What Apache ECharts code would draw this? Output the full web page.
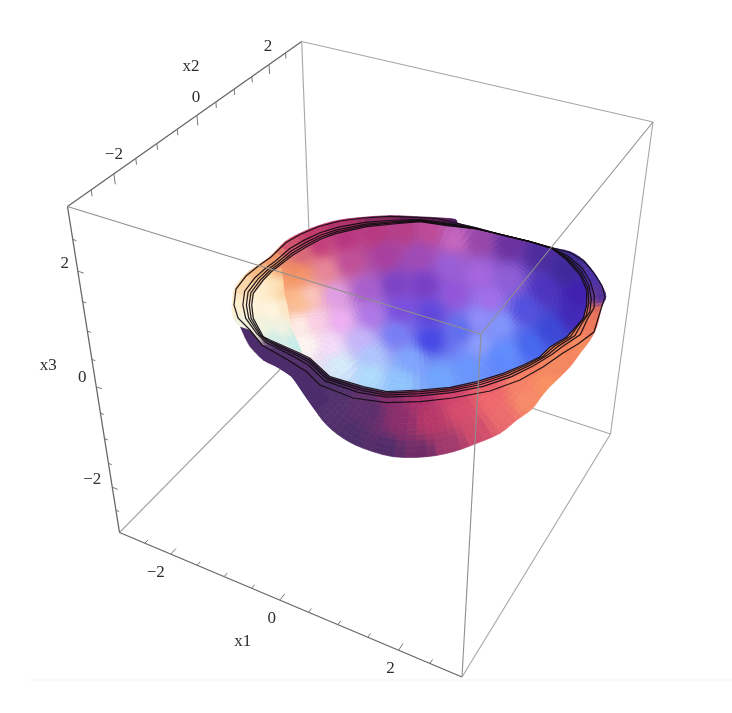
<!DOCTYPE html>
<html><head><meta charset="utf-8">
<style>html,body{margin:0;padding:0;background:#fff}#c{width:732px;height:713px;filter:blur(0.55px)}</style>
<script src="https://cdn.jsdelivr.net/npm/echarts@6/dist/echarts.min.js"></script>
</head><body><div id="c"></div>
<script>
// ---- axis data ----
const axisRange = [-3, 3];
const tickValues = [-2.5, -2, -1.5, -1, -0.5, 0, 0.5, 1, 1.5, 2, 2.5];
const labelledTicks = [-2, 0, 2];
const axisNames = ['x1', 'x2', 'x3'];

// ---- rim and silhouette (view-plane units) ----
const innerX = [251.7,253.3,263.3,271,280,293,306.7,321,336.7,366.7,393.3,420,446.7,476.7,503.3,530,551.7,566.7,580,586.7,586.7,583.3,574,566.7,550,540,523.3,503.3,476.7,450,420,386.7,363.3,330,310,300,270,263.3,253.3];
const innerY = [305,293.3,280,272,265,255,246.7,239,233.3,226.7,224,221.7,225.7,229,235,241.7,248.3,260,275,290,305,318.3,329,337,347,356.7,365,373.3,381.7,387.3,390,391.7,386.7,376.7,358.3,353.3,340,336.7,318.3];
const rimX = [234,236,246,259,271,286,301,319,340,363,390,420,437,476.7,503.3,530,553,570,584,594,602,605,601,594,578,563,543,520,490,453,420,386.7,353,320,306.7,288,262,250,238];
const rimY = [305,289,276,265.5,257,242.5,234,226.5,221,218,216.5,217.5,218.5,228,235.5,241.7,248,252.5,261,273,286,297,309,332,344,353,367,380,391,398,401.7,402.7,398,385,371.7,360,345,330,318];
const rimLevels = [0, 0.14, 0.3, 0.5, 1];
const silhouetteX = [232.3,235,245,258.3,270,285,300,318.3,340,363.3,390,416.7,436.7,455,458.3,476.7,503.3,530,551.7,570,583.3,593.3,601.7,606,601.7,596.7,590,580,570,556.7,548.3,540,531.7,516.7,500,476.7,453.3,426.7,393.3,363.3,343.3,326.7,315,303.3,291.7,276.7,263.3,250,245,240,233.3];
const silhouetteY = [303.3,288.3,275,265,256.7,241.7,233.3,225.7,220,217.3,215.7,216.7,217.7,219.3,223.3,227.7,235,241.7,247.7,251.7,260,271.7,285,296.7,306.7,326.7,340,353.3,366.7,380,388.3,398.3,409.3,420,433.3,443.3,451.7,456.7,456.7,448.3,438.3,425,410,393.3,376.7,366.7,360,346.7,338,326.7,318.3];
const creamX = [283,284,287,291,301.7,270,263.3,253.3,251.7,253.3,263.3,272,281];
const creamY = [281,293,305,328,352,340,336.7,318.3,305,293.3,280,272,268];
const skirtX = [240,250,262,288,306.7,320,330,315,303.3,291.7,276.7,263.3,250,245];
const skirtY = [326.7,330,345,360,371.7,385,400,410,393.3,376.7,366.7,360,346.7,338];
const skirtColour = '#4c2c6a';

// ---- surface colours: [x, y, colour] ----
const bodyColours = [
[420,219,'#5a1c50'],[380,219,'#8a2860'],[340,224,'#b03068'],[310,232,'#c03868'],[290,245,'#d0506c'],[272,258,'#f09868'],[258,270,'#f8b880'],[245,285,'#fcd8a8'],[238,305,'#fff0d0'],[243,322,'#f0f4e0'],
[480,230,'#3a1860'],[530,243,'#2c1a6c'],[570,262,'#3c2a90'],[590,280,'#4a30a8'],[600,298,'#4a2c9c'],[600,312,'#e87058'],[595,325,'#f0785c'],[580,345,'#f88c60'],[560,360,'#f48860'],[545,385,'#f89060'],[525,400,'#f68c68'],[500,415,'#ec6c6c'],[475,430,'#d04c6c'],[450,445,'#a03a6c'],[420,455,'#6c2c68'],[385,450,'#502c68'],[350,435,'#4c2e68'],[320,410,'#50306c'],[295,380,'#4c2c68'],[275,362,'#4e2c6c'],[340,395,'#50306c'],[370,410,'#5a2e6c'],[400,420,'#8c2e6c'],[430,420,'#b83868'],[460,410,'#d84c6c'],[490,400,'#f0686c'],[520,385,'#f88068'],[420,397,'#b0306c'],[390,397,'#8a2c6c'],[360,392,'#60306c'],[330,380,'#4c2e68'],[450,393,'#d0406c'],[490,385,'#e85c68'],[530,365,'#f47c60'],[565,345,'#f47c58'],[590,320,'#f07c58']];
const innerColours = [
[300,256,'#d8687a'],[320,245,'#c4407c'],[345,238,'#b83680'],[375,232,'#b83a80'],[405,230,'#b84088'],[430,232,'#c04c98'],[455,240,'#c868c0'],[480,240,'#9a48a8'],[510,245,'#6c32a0'],[540,255,'#4e2c9c'],[565,272,'#3e2a9a'],[578,295,'#4020b0'],[572,315,'#4028b8'],[550,330,'#3848d8'],[530,345,'#4468f0'],[505,355,'#6090ff'],[480,345,'#8aa0ff'],[500,325,'#8098ff'],[525,310,'#5050e0'],[545,290,'#4c34c0'],[510,280,'#9060d8'],[480,275,'#a868e0'],[450,265,'#9a60d8'],[420,255,'#a04cb8'],[385,255,'#a840a0'],[350,262,'#c05098'],[325,270,'#e88898'],[295,270,'#f08a60'],[290,280,'#f69a68'],[300,275,'#f4986c'],[292,295,'#fcb888'],[300,302,'#fbc090'],[310,295,'#fcc8c0'],[335,295,'#e0a0e8'],[365,290,'#a860d0'],[395,285,'#7c44c8'],[425,285,'#7840c8'],[455,295,'#9458dc'],[490,300,'#a470ec'],[430,315,'#6048dc'],[400,310,'#7a50e0'],[370,315,'#b078e8'],[340,320,'#f0b0f4'],[315,320,'#fcd0e8'],[300,325,'#fff0e8'],[305,345,'#fffaf4'],[330,345,'#f8e0fc'],[360,340,'#c8b8fc'],[395,335,'#7880f8'],[430,340,'#4448e8'],[460,330,'#6070f0'],[480,320,'#9090fc'],[340,365,'#d8f0fc'],[370,375,'#b0e0ff'],[400,382,'#90c8ff'],[440,378,'#70a8ff'],[470,370,'#6898ff'],[410,360,'#80a8ff'],[370,355,'#b0c8ff'],[500,360,'#5c88ff']];
const creamColours = [[281,270,'#f8b078'],[284,290,'#fcd0a0'],[288,312,'#fce8c8'],[275,285,'#fce8c0'],[262,290,'#fff0d0'],[256,305,'#fff4dc'],[272,310,'#fff6e0'],[280,328,'#f4f4e4'],[262,325,'#f0f4e0'],[275,338,'#d0eee8'],[296,345,'#c4ece8']];

// ---- camera: where the eight cube corners land, and their homogeneous depth ----
const corners = {
  '-1,-1,1':[67.5,206.5,1],'-1,1,1':[301.7,41.5,1.235],'1,1,1':[653,122,1.086],'1,-1,1':[481,334,0.851],
  '-1,-1,-1':[119.5,532.5,1.237],'-1,1,-1':[313,336,1.472],'1,1,-1':[610.5,434,1.323],'1,-1,-1':[462,677,1.088]};
function project(a, b, c) {
  const s = [a, b, c].map(v => (v - axisRange[0]) / (axisRange[1] - axisRange[0]));
  let X = 0, Y = 0, W = 0;
  for (const k in corners) {
    const sg = k.split(',').map(Number), p = corners[k];
    const t = (sg[0] > 0 ? s[0] : 1 - s[0]) * (sg[1] > 0 ? s[1] : 1 - s[1]) * (sg[2] > 0 ? s[2] : 1 - s[2]) * p[2];
    X += p[0] * t; Y += p[1] * t; W += t;
  }
  return [X / W, Y / W];
}
const L = axisRange[1];
const lightEdge = '#a6a6a6', darkEdge = '#666666';
const backEdges = [[[-L,-L,L],[-L,L,L],darkEdge],[[-L,L,L],[L,L,L],lightEdge],[[-L,L,L],[-L,L,-L],lightEdge],[[-L,-L,-L],[-L,L,-L],lightEdge],[[L,L,-L],[-L,L,-L],lightEdge]];
const outerEdges = [[[-L,-L,L],[-L,-L,-L],darkEdge],[[-L,-L,-L],[L,-L,-L],darkEdge],[[L,-L,-L],[L,L,-L],lightEdge],[[L,L,L],[L,L,-L],lightEdge]];
const frontEdges = [[[-L,-L,L],[L,-L,L],'#8f8f8f'],[[L,-L,L],[L,L,L],'#8f8f8f'],[[L,-L,L],[L,-L,-L],'#8f8f8f']];

function blend(samples, x, y) {
  let r = 0, g = 0, b = 0, sum = 0;
  for (const s of samples) {
    const d = (s[0]-x)*(s[0]-x) + (s[1]-y)*(s[1]-y);
    const w = 1 / Math.pow(d + 40, 1.7);
    const n = parseInt(s[2].slice(1), 16);
    r += (n >> 16) * w; g += ((n >> 8) & 255) * w; b += (n & 255) * w; sum += w;
  }
  return 'rgb(' + Math.round(r/sum) + ',' + Math.round(g/sum) + ',' + Math.round(b/sum) + ')';
}
function catmull(p0, p1, p2, p3, t) {
  return 0.5 * (2*p1 + (p2-p0)*t + (2*p0-5*p1+4*p2-p3)*t*t + (3*p1-p0-3*p2+p3)*t*t*t);
}
function meshSeries(name, ox, oy, samples, seg, rings, smooth) {
  return { type: 'custom', name, silent: true, clip: false, data: [[0, 0]], z: 3,
    renderItem(params, api) {
      const n = ox.length;
      const cx = ox.reduce((a, b) => a + b) / n, cy = oy.reduce((a, b) => a + b) / n;
      const px = [], py = [];
      for (let i = 0; i < n; i++) for (let k = 0; k < seg; k++) {
        const h = (i + n - 1) % n, j = (i + 1) % n, l = (i + 2) % n, t = k / seg;
        if (smooth) {
          px.push(catmull(ox[h], ox[i], ox[j], ox[l], t)); py.push(catmull(oy[h], oy[i], oy[j], oy[l], t));
        } else {
          px.push(ox[i] + (ox[j] - ox[i]) * t); py.push(oy[i] + (oy[j] - oy[i]) * t);
        }
      }
      const children = [], m = px.length;
      const vert = (i, r) => { const q = i % m; return [cx + (px[q] - cx) * r, cy + (py[q] - cy) * r]; };
      for (let i = 0; i < m; i++) for (let j = 0; j < rings; j++) {
        const r0 = j / rings, r1 = (j + 1) / rings;
        const a = vert(i, r0), b = vert(i + 1, r0), c = vert(i + 1, r1), d = vert(i, r1);
        const col = blend(samples, (a[0]+b[0]+c[0]+d[0]) / 4, (a[1]+b[1]+c[1]+d[1]) / 4);
        children.push({ type: 'polygon', shape: { points: [a, b, c, d].map(p => api.coord(p)) },
          style: { fill: col, stroke: col, lineWidth: 0.7 } });
      }
      return { type: 'group', children };
    } };
}
function edgeSeries(name, edges, z) {
  return { type: 'custom', name, silent: true, clip: false, data: [[0, 0]], z,
    renderItem(params, api) {
      return { type: 'group', children: edges.map(e => ({ type: 'polyline',
        shape: { points: [project(...e[0]), project(...e[1])].map(p => api.coord(p)) },
        style: { stroke: e[2], lineWidth: e[2] === darkEdge ? 1.3 : 1.1, fill: null } })) };
    } };
}
// axis placement: value -> point on cube edge; tick grows along another cube direction
const axes = [
  { name: 'x1', at: v => [v, -L, -L], tick: [0, 0.14, 0], lab: [[-15,18],[-8,18.5],[-8,18]], nameOff: [-37,41.5] },
  { name: 'x2', at: v => [-L, v, L], tick: [0, 0, -0.16], lab: [[0,-19],[-1,-18],[-1,-18]], nameOff: [-6,-49] },
  { name: 'x3', at: v => [-L, -L, v], tick: [0.105, 0, 0], lab: [[-20,-8],[-14,-9],[-13,-8]], nameOff: [-48,-21] } ];
const textFont = '17px "Liberation Serif"';
function textEl(str, x, y) {
  return { type: 'text', style: { text: str, x, y, fill: '#2e2e2e', font: textFont, textAlign: 'center', textVerticalAlign: 'middle' } };
}
const option = {
  animation: false, backgroundColor: '#fff',
  grid: { left: 0, right: 0, top: 0, bottom: 0 },
  xAxis: { type: 'value', min: 0, max: 732, show: false },
  yAxis: { type: 'value', min: 0, max: 713, inverse: true, show: false },
  series: [
    { type: 'custom', name: 'page rule', silent: true, clip: false, data: [[30, 680], [732, 680]], z: 0,
      renderItem(params, api) {
        if (params.dataIndex) return null;
        return { type: 'line', shape: { x1: api.coord([30, 680])[0], y1: api.coord([30, 680])[1], x2: api.coord([732, 680])[0], y2: api.coord([732, 680])[1] },
          style: { stroke: '#f3f3f3', lineWidth: 1 } };
      } },
    edgeSeries('back edges', backEdges, 1),
    edgeSeries('outer edges', outerEdges, 1),
    meshSeries('outer surface', silhouetteX, silhouetteY, bodyColours, 3, 24, true),
    { type: 'custom', name: 'outer shadow', silent: true, clip: false, data: [[0, 0]], z: 3,
      renderItem(params, api) {
        return { type: 'polygon', shape: { points: skirtX.map((x, i) => api.coord([x, skirtY[i]])) }, style: { fill: skirtColour } };
      } },
    meshSeries('inner surface', innerX, innerY, innerColours, 4, 36),
    meshSeries('inner rim patch', creamX, creamY, creamColours, 3, 10),
    { type: 'custom', name: 'rim contours', silent: true, clip: false, data: rimLevels.map(v => [v, 0]), z: 4,
      renderItem(params, api) {
        const t = api.value(0);
        const pts = innerX.map((x, i) => api.coord([x + (rimX[i] - x) * t, innerY[i] + (rimY[i] - innerY[i]) * t]));
        return { type: 'polygon', shape: { points: pts }, style: { fill: null, stroke: '#120c10', lineWidth: 1.25, opacity: 0.92 } };
      } },
    edgeSeries('front edges', frontEdges, 5),
    { type: 'custom', name: 'ticks', silent: true, clip: false, data: [[0, 0]], z: 6,
      renderItem(params, api) {
        const children = [];
        axes.forEach(ax => tickValues.forEach(v => {
          const major = labelledTicks.includes(v), k = major ? 1 : 0.6, p = ax.at(v);
          const q = [p[0] + ax.tick[0] * k, p[1] + ax.tick[1] * k, p[2] + ax.tick[2] * k];
          children.push({ type: 'polyline', shape: { points: [project(...p), project(...q)].map(c => api.coord(c)) },
            style: { stroke: '#777', lineWidth: 1, fill: null } });
        }));
        return { type: 'group', children };
      } },
    { type: 'custom', name: 'labels', silent: true, clip: false, data: [[0, 0]], z: 7,
      renderItem(params, api) {
        const children = [];
        axes.forEach(ax => {
          labelledTicks.forEach((v, i) => {
            const c = api.coord(project(...ax.at(v)));
            children.push(textEl(String(v).replace('-', '\u2212'), c[0] + ax.lab[i][0], c[1] + ax.lab[i][1]));
          });
          const c0 = api.coord(project(...ax.at(0)));
          children.push(textEl(ax.name, c0[0] + ax.nameOff[0], c0[1] + ax.nameOff[1]));
        });
        return { type: 'group', children };
      } }
  ]
};
echarts.init(document.getElementById('c'), null, { renderer: 'canvas' }).setOption(option);
</script></body></html>
